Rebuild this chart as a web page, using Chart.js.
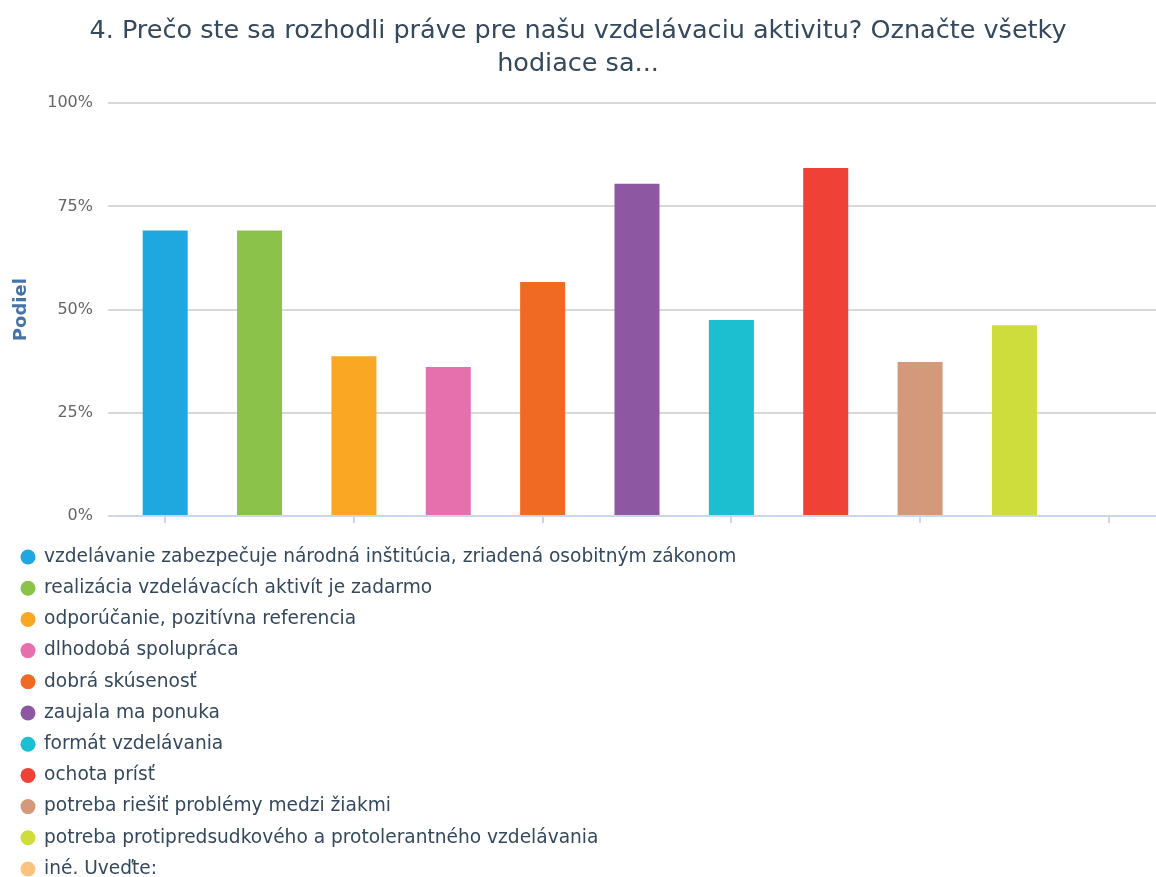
<!DOCTYPE html>
<html lang="sk">
<head>
    <meta charset="UTF-8">
    <title>Podiel</title>
    <script src="https://cdn.jsdelivr.net/npm/chart.js"></script>
    <style>
        html, body { margin: 0; padding: 0; background: #fff; }
        .chart-box { width: 1156px; height: 877px; position: relative; }
    </style>
</head>
<body>
    <div class="chart-box"><canvas id="podielChart"></canvas></div>
    <script>
    const titleLines = ['4. Prečo ste sa rozhodli práve pre našu vzdelávaciu aktivitu? Označte všetky', 'hodiace sa...'];
    const categories = [
        'vzdelávanie zabezpečuje národná inštitúcia, zriadená osobitným zákonom',
        'realizácia vzdelávacích aktivít je zadarmo',
        'odporúčanie, pozitívna referencia',
        'dlhodobá spolupráca',
        'dobrá skúsenosť',
        'zaujala ma ponuka',
        'formát vzdelávania',
        'ochota prísť',
        'potreba riešiť problémy medzi žiakmi',
        'potreba protipredsudkového a protolerantného vzdelávania',
        'iné. Uveďte:'
    ];
    const shares = [69.2, 69.2, 38.7, 36.1, 56.7, 80.5, 47.5, 84.3, 37.3, 46.2, 0];
    const barColors = ['#1fa8e0', '#8bc34a', '#faa723', '#e66fad', '#f06a23', '#8e57a2', '#1cbfcf', '#ef4136', '#d4997a', '#cfdd3c', '#fbc37f'];
    const yTicks = [0, 25, 50, 75, 100];

    const FONT = '"DejaVu Sans", sans-serif';
    const TEXT_COLOR = '#34495e';

    // legend as one item per line under the plot
    const listLegend = {
        id: 'listLegend',
        afterDraw(chart) {
            const ctx = chart.ctx;
            const top = chart.chartArea.bottom + 41;
            ctx.save();
            ctx.font = '18.6px ' + FONT;
            ctx.textBaseline = 'middle';
            ctx.textAlign = 'left';
            categories.forEach(function(label, i) {
                const y = top + i * 31.2;
                ctx.beginPath();
                ctx.arc(28, y, 7.5, 0, Math.PI * 2);
                ctx.fillStyle = barColors[i];
                ctx.fill();
                ctx.fillStyle = TEXT_COLOR;
                ctx.fillText(label, 44, y);
            });
            ctx.restore();
        }
    };

    new Chart(document.getElementById('podielChart').getContext('2d'), {
        type: 'bar',
        data: {
            labels: categories,
            datasets: [{
                label: 'Podiel',
                data: shares,
                backgroundColor: barColors,
                categoryPercentage: 1,
                barPercentage: 0.477
            }]
        },
        options: {
            responsive: true,
            maintainAspectRatio: false,
            animation: false,
            layout: { padding: { left: 0, right: 0, top: 0, bottom: 354 } },
            plugins: {
                legend: { display: false },
                tooltip: { enabled: false },
                title: {
                    display: true,
                    text: titleLines,
                    color: TEXT_COLOR,
                    font: { family: FONT, size: 25.5, weight: 'normal', lineHeight: 1.3 },
                    padding: { top: 14.5, bottom: 22.5 }
                }
            },
            scales: {
                x: {
                    offset: true,
                    grid: {
                        offset: false,
                        drawOnChartArea: false,
                        drawTicks: true,
                        tickLength: 7,
                        lineWidth: 2,
                        color: function(c) { return c.index % 2 === 0 ? '#ccd6eb' : 'rgba(0,0,0,0)'; }
                    },
                    border: { display: true, color: '#ccd6eb', width: 2 },
                    ticks: { display: false }
                },
                y: {
                    min: 0,
                    max: 100,
                    afterBuildTicks: function(scale) {
                        scale.ticks = yTicks.map(function(v) { return { value: v }; });
                    },
                    afterFit: function(scale) { scale.width = 118; },
                    grid: { color: '#d8d8d8', lineWidth: 2, drawTicks: true, tickLength: 10 },
                    border: { display: false },
                    ticks: {
                        padding: 15,
                        color: '#666666',
                        font: { family: FONT, size: 16 },
                        callback: function(v) { return v + '%'; }
                    },
                    title: {
                        display: true,
                        text: 'Podiel',
                        color: '#4572a7',
                        font: { family: FONT, size: 18, weight: 'bold' },
                        padding: { top: 11, bottom: 0 }
                    }
                }
            }
        },
        plugins: [listLegend]
    });
    </script>
</body>
</html>
